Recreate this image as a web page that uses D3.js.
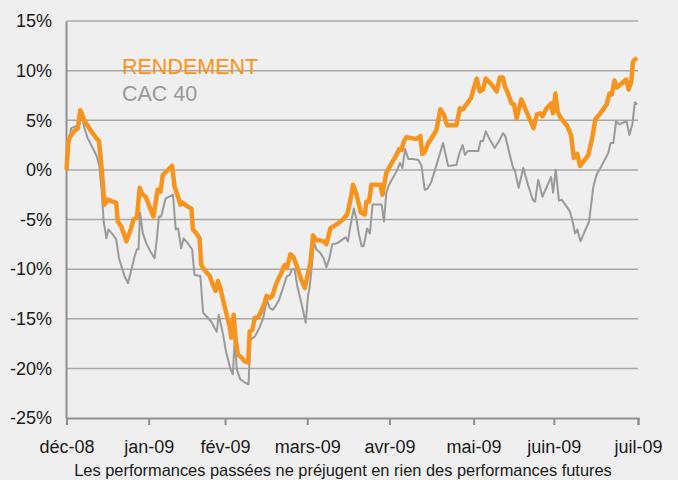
<!DOCTYPE html>
<html><head><meta charset="utf-8">
<script src="https://cdn.jsdelivr.net/npm/d3@7"></script>
<style>html,body{margin:0;padding:0;background:#eeefee;}svg{display:block;}</style>
</head><body>
<svg id="c" width="678" height="480"></svg>
<script>
// x = trading-day index since 1 Dec 2008, value in %
const rendementX = [0,0.5,1.0,2.0,2.9,3.5,3.9,4.4,5.0,6.3,7.6,8.3,8.9,9.3,9.7,10.6,11.8,12.7,13.1,14.0,15.3,16.5,17.1,18.0,18.7,19.4,20.2,21.2,22.2,23.3,24.0,24.6,25.7,27.0,27.6,28.5,29.1,29.6,30.6,31.9,32.3,33.2,34.0,34.4,34.9,35.7,36.6,37.4,38.1,38.7,39.3,40.0,40.8,41.7,42.1,42.7,43.2,43.8,44.7,45.5,46.4,46.8,47.5,48.1,48.9,49.8,50.6,51.1,51.9,52.6,53.4,54.0,54.9,55.7,56.3,57.2,58.0,59.1,60.0,60.9,61.7,62.3,63.0,63.7,64.7,65.7,66.4,67.4,69.0,70.6,71.7,72.4,73.2,74.1,75.2,76.2,76.6,77.3,77.9,79.0,80.2,80.7,81.7,82.4,83.4,84.3,85.0,85.6,86.2,86.9,88.1,89.4,90.4,90.9,91.5,92.4,93.3,94.5,95.5,96.4,97.2,98.1,99.6,100.5,101.3,102.0,103.3,104.8,105.6,106.4,107.1,108.6,109.9,110.7,111.5,112.0,112.8,113.7,114.3,115.0,116.2,117.8,119.3,120.2,121.0,121.6,122.5,123.8,124.3,124.9,125.5,126.3,127.8,128.9,129.6,130.5,131.2,132.2,133.3,134.4,135.1,136.2,138.0,138.7,139.3,140.0,140.6,141.8,143.0,143.6,144.3,144.7,145.7];
const rendementY = [0,2.9,3.4,3.9,4.2,6.0,5.7,5.1,4.7,3.9,3.2,2.9,0.5,-1.5,-3.5,-3.0,-3.2,-3.3,-5.2,-5.7,-7.2,-5.9,-5.0,-4.8,-1.8,-2.5,-2.7,-3.7,-4.7,-2.0,-2.2,-0.5,-0.1,0.4,-1.7,-2.7,-3.5,-3.3,-3.6,-3.9,-6.0,-6.4,-6.9,-9.5,-9.9,-10.3,-10.7,-11.6,-12.2,-11.2,-11.9,-13.1,-14.4,-15.8,-16.9,-14.6,-17.1,-18.6,-18.9,-19.3,-19.4,-16.3,-16.1,-14.9,-14.9,-14.2,-13.4,-12.7,-12.9,-12.7,-11.7,-11.1,-10.4,-9.6,-9.9,-8.5,-8.8,-10.0,-11.1,-11.9,-10.4,-9.4,-6.6,-7.1,-7.1,-7.2,-7.5,-5.9,-5.5,-5.0,-4.5,-3.3,-1.5,-2.5,-4.3,-4.5,-3.2,-3.2,-1.5,-1.5,-1.5,-2.5,-0.3,0.2,0.9,1.5,2.1,2.0,2.9,3.3,3.2,3.1,3.4,1.6,1.8,2.7,3.2,4.0,6.1,5.6,4.5,4.5,4.5,6.2,6.1,6.5,7.2,9.2,7.9,8.1,9.2,8.6,7.9,9.3,9.3,8.4,7.7,6.7,6.6,5.2,7.1,5.6,4.2,5.6,5.7,5.4,6.1,6.7,5.7,7.7,5.8,5.2,4.5,3.5,1.2,1.6,0.4,0.9,1.5,3.4,5.1,5.6,6.6,7.7,7.6,9.0,8.3,8.7,9.1,8.1,8.9,10.9,11.3];
const cacX = [0,0.8,1.2,2.5,3.1,3.8,4.6,5.4,6.7,7.7,8.4,9.0,9.5,10.2,10.7,11.8,12.7,13.4,14.2,14.8,15.7,16.5,17.4,18.0,18.4,18.8,19.5,20.4,21.4,22.5,23.1,23.6,24.2,25.3,27.2,27.9,28.5,29.3,29.9,31.0,32.1,32.7,34.2,34.9,36.1,37.0,37.8,38.4,38.9,40.0,40.8,41.9,42.5,43.0,43.5,44.4,45.5,46.5,47.0,48.1,49.3,50.2,51.2,51.9,52.7,53.6,54.3,55.3,56.3,57.0,57.6,58.3,58.9,60.0,61.1,61.7,62.1,62.6,63.2,63.8,64.7,65.7,66.4,67.1,67.9,69.1,70.2,71.3,71.9,72.5,73.4,74.1,74.7,75.4,75.9,76.8,77.5,78.2,79.6,80.5,81.1,81.7,82.4,83.4,84.5,85.2,85.8,86.5,87.3,88.5,89.9,90.7,91.5,92.2,93.1,94.3,96.2,97.5,99.6,100.4,101.2,101.8,102.5,105.2,105.8,106.4,107.1,108.2,109.4,110.5,111.5,112.1,113.2,114.1,114.5,115.5,116.7,117.9,119.1,119.7,120.5,121.6,122.7,123.8,124.3,125.0,125.8,126.5,127.8,128.6,129.3,129.9,130.5,131.3,132.4,133.5,134.6,135.4,136.7,138.4,139.0,139.7,140.4,141.2,143.1,143.8,144.6,145.2,145.8];
const cacY = [0,3.2,4.2,4.4,4.6,5.6,4.2,3.2,2.2,1.4,0.4,-2.2,-5.2,-6.9,-6.0,-6.5,-7.0,-8.9,-9.9,-10.7,-11.4,-10.2,-8.7,-8.0,-8.0,-4.3,-6.4,-7.4,-8.2,-8.9,-6.9,-4.7,-4.7,-2.9,-2.5,-6.0,-5.9,-7.9,-6.9,-7.4,-8.0,-10.6,-10.7,-14.4,-14.9,-15.3,-15.9,-16.3,-14.6,-16.6,-18.4,-20.1,-20.6,-16.9,-20.1,-21.1,-21.4,-21.6,-17.1,-16.8,-15.9,-15.0,-13.1,-13.9,-14.1,-13.6,-13.1,-11.9,-10.7,-10.6,-10.0,-10.0,-11.6,-13.4,-15.4,-12.7,-11.9,-10.0,-7.2,-8.0,-8.3,-8.9,-9.8,-9.0,-7.5,-7.4,-7.1,-6.8,-7.2,-5.7,-3.9,-5.0,-6.5,-7.7,-7.7,-5.9,-6.4,-3.5,-3.5,-3.5,-5.2,-2.3,-1.5,-0.8,0.0,0.7,0.2,2.1,1.1,1.1,1.0,0.4,-2.0,-1.9,-1.3,0.2,2.7,0.4,0.5,1.7,2.5,1.5,1.9,1.9,2.9,2.9,3.9,3.0,2.2,2.9,3.7,3.4,1.6,0.2,0.0,-1.8,0.2,-1.5,-3.0,-3.2,-1.0,-2.7,-1.7,-0.7,-2.3,0.0,-3.1,-3.0,-3.7,-4.2,-5.2,-6.4,-6.0,-7.2,-6.2,-5.2,-1.7,-0.5,0.4,1.7,2.7,2.7,4.9,4.6,4.9,3.5,4.7,6.8,6.6];
const monthLabels = ["déc-08","jan-09","fév-09","mars-09","avr-09","mai-09","juin-09","juil-09"];
const monthIdx = [0,21,40.5,61.5,82.5,104,124.5,146];
const yTicks = [-25,-20,-15,-10,-5,0,5,10,15];
const seriesNames = ["RENDEMENT","CAC 40"];
const footer = "Les performances passées ne préjugent en rien des performances futures";

const svg = d3.select("#c");
const W = 678, H = 480;
svg.append("rect").attr("width",W).attr("height",H).attr("fill","#eeefee");
const x = d3.scaleLinear().domain([0,146]).range([66.5,638]);
const y = d3.scaleLinear().domain([-25,15]).range([418,21]);
const font = "Liberation Sans, Arial, Helvetica, sans-serif";

// gridlines
svg.append("g").selectAll("line").data(yTicks.filter(d=>d>-25)).join("line")
  .attr("x1",x(0)).attr("x2",x(146)).attr("y1",d=>y(d)).attr("y2",d=>y(d))
  .attr("stroke","#a7a8a7").attr("stroke-width",1.5);

// y axis
const yAxis = d3.axisLeft(y).tickValues(yTicks).tickSize(0).tickPadding(14).tickFormat(d=>d+"%");
const gy = svg.append("g").attr("transform",`translate(${x(0)-0.5},0)`).call(yAxis);
gy.select(".domain").attr("stroke","#8e8f8e").attr("stroke-width",2);
gy.selectAll("text").attr("font-family",font).attr("font-size",18).attr("fill","#1a1a1a");

// x axis
const xAxis = d3.axisBottom(x).tickValues(monthIdx).tickSize(7).tickPadding(15).tickFormat((d,i)=>monthLabels[i]);
const gx = svg.append("g").attr("transform",`translate(0,${y(-25)})`).call(xAxis);
gx.select(".domain").attr("stroke","#8e8f8e").attr("stroke-width",2);
gx.selectAll(".tick line").attr("stroke","#8e8f8e").attr("stroke-width",2);
gx.selectAll("text").attr("font-family",font).attr("font-size",18).attr("fill","#1a1a1a");

const line = d3.line().x(d=>x(d[0])).y(d=>y(d[1]));
const cac = cacX.map((v,i)=>[v,cacY[i]]);
const ren = rendementX.map((v,i)=>[v,rendementY[i]]);
svg.append("path").datum(cac).attr("d",line).attr("fill","none")
  .attr("stroke","#999a99").attr("stroke-width",2).attr("stroke-linejoin","round");
svg.append("path").datum(ren).attr("d",line).attr("fill","none")
  .attr("stroke","#f7941d").attr("stroke-width",4.5).attr("stroke-linejoin","round");

// legend
svg.append("text").attr("x",122).attr("y",74).text(seriesNames[0])
  .attr("font-family",font).attr("font-size",21.5).attr("fill","#f7941d");
svg.append("text").attr("x",122).attr("y",101).text(seriesNames[1])
  .attr("font-family",font).attr("font-size",21.5).attr("fill","#999a99");

// footer
svg.append("text").attr("x",343).attr("y",475.5).attr("text-anchor","middle").text(footer)
  .attr("font-family",font).attr("font-size",16.4).attr("fill","#1a1a1a");
</script>
</body></html>
